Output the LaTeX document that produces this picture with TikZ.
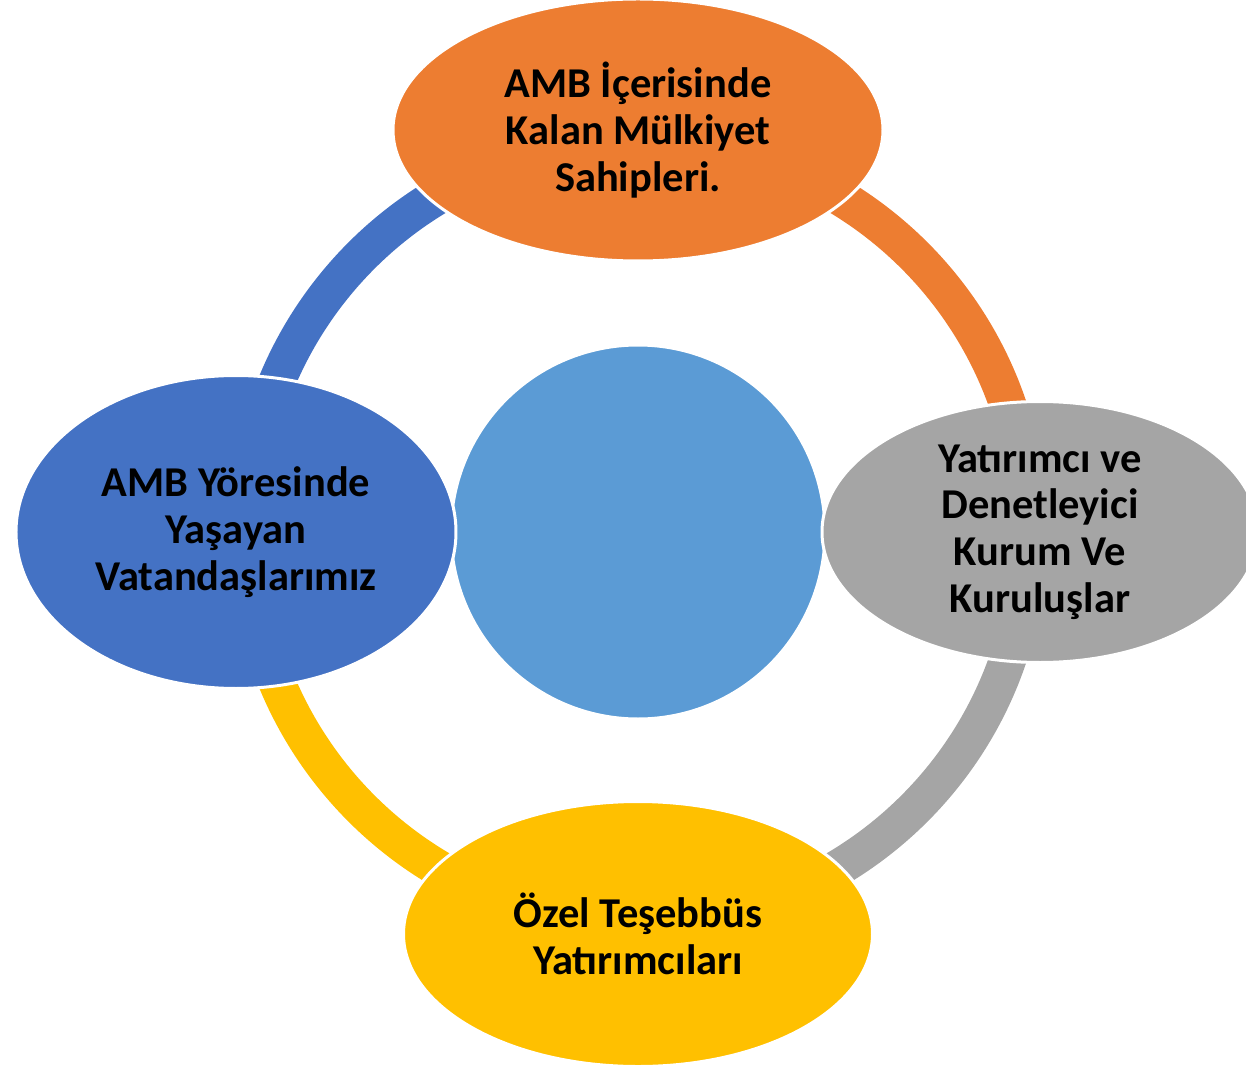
\documentclass[tikz,border=0pt]{standalone}
\usepackage{fontspec}
\setmainfont{Carlito}
\usetikzlibrary{positioning,shapes.geometric,backgrounds}
\definecolor{cor}{HTML}{ED7D31}
\definecolor{cbl}{HTML}{4472C4}
\definecolor{cgr}{HTML}{A5A5A5}
\definecolor{cye}{HTML}{FFC000}
\definecolor{cmid}{HTML}{5B9BD5}

\begin{document}
\begin{tikzpicture}[x=1pt,y=1pt,node distance=402pt,on grid,
  e/.style={ellipse,draw=white,line width=3pt,inner sep=0pt,align=center,
    font=\fontsize{42.5}{46.7}\selectfont\bfseries},
  ring/.style={line width=37pt}]
\useasboundingbox (-638,-536) rectangle (608,532);
\node[circle,draw=white,line width=3pt,fill=cmid,minimum size=374pt](mid){};
\node[e,fill=cor,minimum width=490pt,minimum height=262pt,above=of mid](mulk)
  {AMB İçerisinde\\Kalan Mülkiyet\\Sahipleri.};
\node[e,fill=cgr,minimum width=436pt,minimum height=261pt,right=of mid](yat)
  {Yatırımcı ve\\Denetleyici\\Kurum Ve\\Kuruluşlar};
\node[e,fill=cye,minimum width=469pt,minimum height=265pt,below=of mid](ozel)
  {Özel Teşebbüs\\Yatırımcıları};
\node[e,fill=cbl,minimum width=440pt,minimum height=313pt,left=of mid](vat)
  {AMB Yöresinde\\Yaşayan\\Vatandaşlarımız};
% ring segments behind the ellipses
\begin{scope}[on background layer]
\draw[ring,cbl] (vat.center) ++(11,0) arc[start angle=180,end angle=90,radius=391];
\draw[ring,cor] (mulk.center) ++(0,-11) arc[start angle=90,end angle=0,radius=391];
\draw[ring,cgr] (yat.center) ++(-11,0) arc[start angle=0,end angle=-90,radius=391];
\draw[ring,cye] (ozel.center) ++(0,11) arc[start angle=-90,end angle=-180,radius=391];
\end{scope}
\end{tikzpicture}
\end{document}
